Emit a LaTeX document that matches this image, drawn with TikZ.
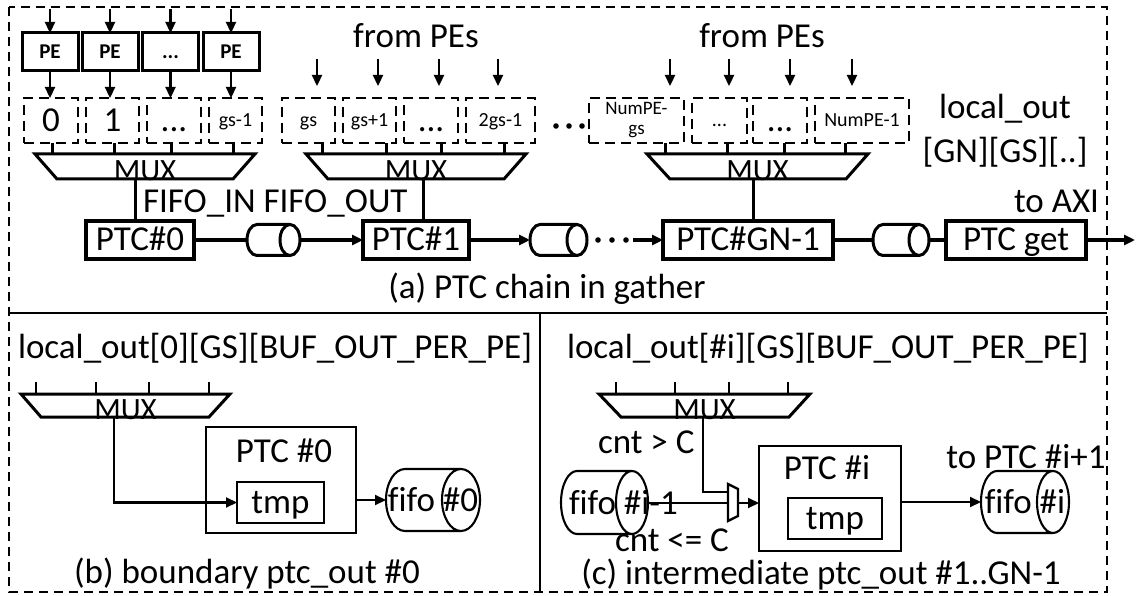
\documentclass[tikz,border=0pt]{standalone}
\usepackage{fontspec}
\setmainfont{Carlito}[Ligatures=CommonOff]
\usetikzlibrary{arrows.meta,calc}

% horizontal FIFO cylinder drawn around a (borderless) node: name, end radius, line width
\newcommand\fifoshape[3]{%
  \draw[line width=#3] let \p1=(#1.north west), \p2=(#1.south east),
    \p3=(0,{(\y1-\y2)/2}) in
    (\x2-#2pt,\y1) -- (\x1+#2pt,\y1)
    arc[start angle=90,end angle=270,x radius=#2pt,y radius=\y3]
    -- (\x2-#2pt,\y2)
    (\x2-#2pt,\y1-\y3) ellipse[x radius=#2pt,y radius=\y3];
}

\begin{document}
\begin{tikzpicture}[x=1pt,y=-1pt,
  every node/.style={inner sep=0pt,outer sep=0pt},
  lbl/.style={font=\fontsize{35}{40}\selectfont},
  bigtxt/.style={font=\fontsize{35}{40}\selectfont,text height=22pt,text depth=0pt},
  smalltxt/.style={font=\fontsize{20}{20}\selectfont,text height=13pt,text depth=0pt},
  muxfont/.style={font=\fontsize{31}{31}\selectfont},
  tip/.style={-{Triangle[length=11pt,width=10pt]}},
  pebox/.style={draw,line width=3pt,minimum width=56pt,minimum height=38pt,
    font=\bfseries\fontsize{21}{21}\selectfont,text height=13pt,text depth=0pt},
  bufbox/.style={draw,line width=2.3pt,dash pattern=on 10pt off 6pt,minimum height=45pt},
  ptc/.style={draw,line width=3.6pt,minimum height=38pt,bigtxt},
  cylnode/.style={draw=none,minimum height=31pt},
  feed/.style={line width=2.3pt,tip},
  link/.style={line width=3.4pt},
  muxline/.style={line width=3pt,line join=miter},
  thinbox/.style={draw,line width=2.2pt},
  wire/.style={line width=2.1pt},
  outer/.style={line width=1.8pt,dash pattern=on 9pt off 6pt}
]
\useasboundingbox (0,0) rectangle (1136,596);

% ---------- frames ----------
\draw[outer] (9,7) rectangle (1107,592);
\draw[line width=2.4pt] (9,313) -- (1107,313);
\draw[line width=2.4pt] (540,313) -- (540,592);

% ---------- (a) PE row ----------
\node[pebox] (pe1) at (50,52) {PE};
\node[pebox] (pe2) at (110,52) {PE};
\node[pebox] (pe3) at (170.5,52) {...};
\node[pebox] (pe4) at (231,52) {PE};
\foreach \i/\x in {1/50,2/110,3/170.5,4/231} {
  \coordinate (pin\i) at (\x,9);
  \draw[feed] (pin\i) -- (pe\i);
}

% ---------- (a) local_out buffers ----------
\node[bufbox,minimum width=54pt,bigtxt] (b0) at (51,120.5) {0};
\node[bufbox,minimum width=53pt,bigtxt] (b1) at (112.5,120.5) {1};
\node[bufbox,minimum width=54pt,bigtxt] (b2) at (174,120.5) {...};
\node[bufbox,minimum width=53pt,smalltxt] (b3) at (235.5,120.5) {gs-1};
\node[bufbox,minimum width=53pt,smalltxt] (b4) at (308.5,120.5) {gs};
\node[bufbox,minimum width=53pt,smalltxt] (b5) at (369.5,120.5) {gs+1};
\node[bufbox,minimum width=54pt,bigtxt] (b6) at (431,120.5) {...};
\node[bufbox,minimum width=69pt,smalltxt] (b7) at (500.5,120.5) {2gs-1};
\node[bufbox,minimum width=95pt,font=\fontsize{19}{20}\selectfont,align=center] (b8) at (636.5,120.5) {NumPE-\\gs};
\node[bufbox,minimum width=55pt,smalltxt] (b9) at (719.5,120.5) {...};
\node[bufbox,minimum width=54pt,bigtxt] (b10) at (780,120.5) {...};
\node[bufbox,minimum width=94pt,smalltxt] (b11) at (862,120.5) {NumPE-1};

\draw[feed] (pe1) -- (pe1 |- b0.north);
\draw[feed] (pe2) -- (pe2 |- b1.north);
\draw[feed] (pe3) -- (pe3 |- b2.north);
\draw[feed] (pe4) -- (pe4 |- b3.north);

% inputs arriving from the PEs
\foreach \x in {317,378,439,498,670,729,790,852} {
  \coordinate (fa\x) at (\x,59);
  \coordinate (fb\x) at (\x,86);
  \draw[feed] (fa\x) -- (fb\x);
}
\node[lbl,anchor=base] (fromA) at (416,48) {from PEs};
\node[lbl,anchor=base] (fromB) at (762,48) {from PEs};

% dots between the groups
\foreach \x in {556,569,582} \fill (\x,126) circle[radius=2.8pt];

% ---------- (a) multiplexers ----------
\draw[muxline] (35,154) -- (255,154) -- (233,179) -- (57,179) -- cycle;
\draw[muxline] (306,154) -- (526,154) -- (504,179) -- (328,179) -- cycle;
\draw[muxline] (647,154) -- (868,154) -- (846,179) -- (670,179) -- cycle;
\node[muxfont,anchor=base] (muxA) at (145,181) {MUX};
\node[muxfont,anchor=base] (muxB) at (416,181) {MUX};
\node[muxfont,anchor=base] (muxC) at (757.5,181) {MUX};
\foreach \x/\b in {52/b0,114/b1,171/b2,233/b3,322/b4,386/b5,441/b6,504/b7,
                   665/b8,727/b9,784/b10,845/b11}
  \draw[muxline] (\b.south -| \x,0) -- (\x,154);

% ---------- (a) PTC chain ----------
\node[ptc,minimum width=108pt] (p0) at (140,240) {PTC\#0};
\node[ptc,minimum width=106pt] (p1) at (416,240) {PTC\#1};
\node[ptc,minimum width=170pt] (p2) at (748,240) {PTC\#GN-1};
\node[ptc,minimum width=140pt] (pg) at (1016,240) {PTC get};
\node[cylnode,minimum width=53pt] (c1) at (273.5,240) {};
\node[cylnode,minimum width=57pt] (c2) at (558.5,240) {};
\node[cylnode,minimum width=56pt] (c3) at (901,240) {};
\fifoshape{c1}{10}{3pt}
\fifoshape{c2}{10}{3pt}
\fifoshape{c3}{10}{3pt}

\coordinate (oA) at (135,179);
\coordinate (oB) at (423,179);
\coordinate (oC) at (753,179);
\draw[muxline] (oA) -- (oA |- p0.north);
\draw[muxline] (oB) -- (oB |- p1.north);
\draw[muxline] (oC) -- (oC |- p2.north);

\draw[link] (p0) -- (c1);
\draw[link,tip] (c1) -- (p1);
\draw[link,tip] (p1) -- (c2);
\foreach \x in {598,612,626} \fill (\x,240) circle[radius=2.8pt];
\coordinate (dend) at (633,240);
\draw[link,tip] (dend) -- (p2);
\draw[link] (p2) -- (c3);
\draw[link] (c3) -- (pg);
\coordinate (axi) at (1135,240);
\draw[link,tip] (pg) -- (axi);

\node[lbl,anchor=base west] (fifolbl) at (143,213) {FIFO\_IN FIFO\_OUT};
\node[lbl,anchor=base east] (axilbl) at (1099,213) {to AXI};
\node[lbl,anchor=base] (lo1) at (1005,119) {local\_out};
\node[lbl,anchor=base] (lo2) at (1005,163) {[GN][GS][..]};
\node[lbl,anchor=base] (capA) at (547,299) {(a) PTC chain in gather};

% ---------- (b) boundary ptc_out ----------
\node[lbl,anchor=base west] (loB) at (18,358) {local\_out[0][GS][BUF\_OUT\_PER\_PE]};
\draw[muxline] (21,394) -- (230,394) -- (209,417) -- (41,417) -- cycle;
\foreach \x in {36,96,149,209} \draw[wire] (\x,382) -- (\x,394);
\node[muxfont,anchor=base] (muxb) at (125.5,419) {MUX};
\node[thinbox,minimum width=150pt,minimum height=106pt] (ptcb) at (281,480) {};
\node[lbl,anchor=base] (ptcbl) at (284,462) {PTC \#0};
\node[thinbox,minimum width=87pt,minimum height=41pt,bigtxt] (tmpb) at (280.5,502.5) {tmp};
\node[draw=none,minimum width=94pt,minimum height=62pt,bigtxt] (fifob) at (433,500) {fifo \#0};
\fifoshape{fifob}{19}{2.1pt}
\coordinate (ob) at (114,417);
\draw[wire,tip] (ob) |- (tmpb.west);
\draw[wire,tip] (ptcb.east |- fifob.west) -- (fifob.west);
\node[lbl,anchor=base] (capB) at (247,583) {(b) boundary ptc\_out \#0};

% ---------- (c) intermediate ptc_out ----------
\node[lbl,anchor=base west] (loC) at (567,358) {local\_out[\#i][GS][BUF\_OUT\_PER\_PE]};
\draw[muxline] (599,394) -- (810,394) -- (789,417) -- (621,417) -- cycle;
\foreach \x in {616,675,729,788} \draw[wire] (\x,382) -- (\x,394);
\node[muxfont,anchor=base] (muxc) at (704.5,419) {MUX};

% 2:1 select between the MUX and the previous FIFO
\draw[line width=2.3pt,line join=miter] (728,484) -- (738,489) -- (738,516) -- (728,521) -- cycle;
\coordinate (selA) at (728,492);
\coordinate (selB) at (728,503);
\coordinate (selO) at (738,503);

\node[draw=none,minimum width=87pt,minimum height=63pt] (fifoc) at (604.5,502.5) {};
\fifoshape{fifoc}{16}{2.1pt}
\node[lbl,anchor=base west] (fifocl) at (569,514) {fifo \#i-1};

\node[thinbox,minimum width=142pt,minimum height=105pt] (ptcc) at (830,498.5) {};
\node[lbl,anchor=base] (ptccl) at (827,479) {PTC \#i};
\node[thinbox,minimum width=94pt,minimum height=41pt,bigtxt] (tmpc) at (835,518.5) {tmp};
\node[draw=none,minimum width=88pt,minimum height=62pt,bigtxt] (fifoi) at (1025,502) {fifo \#i};
\fifoshape{fifoi}{16}{2.1pt}

\coordinate (oc) at (703,417);
\draw[wire] (oc) |- (selA);
\draw[wire] (fifoc.east |- selB) -- (selB);
\draw[wire,tip] (selO) -- (ptcc.west |- selO);
\draw[wire,tip] (ptcc.east |- fifoi.west) -- (fifoi.west);

\node[lbl,anchor=base west] (gtC) at (598,453) {cnt > C};
\node[lbl,anchor=base west] (leC) at (615,551) {cnt <= C};
\node[lbl,anchor=base] (toNext) at (1026,468) {to PTC \#i+1};
\node[lbl,anchor=base] (capC) at (821,584) {(c) intermediate ptc\_out \#1..GN-1};
\end{tikzpicture}
\end{document}
